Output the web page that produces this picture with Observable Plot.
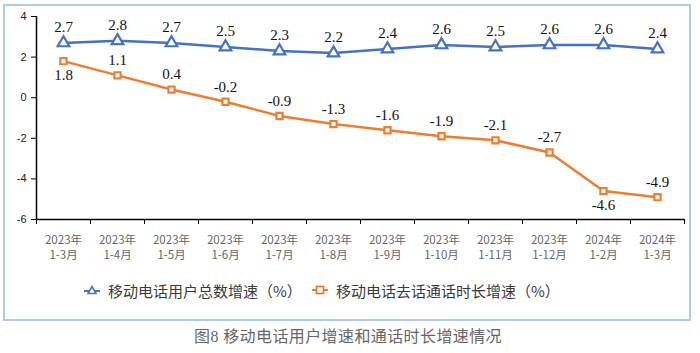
<!DOCTYPE html>
<html>
<head>
<meta charset="utf-8">
<script src="https://cdn.jsdelivr.net/npm/d3@7"></script>
<script src="https://cdn.jsdelivr.net/npm/@observablehq/plot@0.6"></script>
<style>
  body { margin: 0; background: #fff; }
  #wrap { position: relative; width: 700px; height: 353px; overflow: hidden; }
  #frame { position: absolute; left: 3px; top: 4px; width: 684px; height: 313px; border: 2px solid #aecbea; }
  #chart { position: absolute; left: 0; top: 0; }
  .leg { position: absolute; top: 280px; font-family: "Noto Sans CJK SC", sans-serif; font-size: 15px; color: #3a3a3a; display: flex; align-items: center; height: 20px; white-space: nowrap; }
  .leg svg { margin-right: 8px; }
  #caption { position: absolute; top: 323px; left: 0; width: 696px; text-align: center; font-family: "Liberation Serif", "Noto Sans CJK SC", serif; font-size: 16px; color: #666; letter-spacing: 0.4px; }
  #caption span { font-family: "Noto Sans CJK SC", sans-serif; }
</style>
</head>
<body>
<div id="wrap">
  <div id="frame"></div>
  <div id="chart"></div>
  <div class="leg" style="left:84px">
    <svg width="16" height="12"><line x1="0" y1="7" x2="16" y2="7" stroke="#4472C4" stroke-width="2"/><path d="M8,2.5 L12,9.5 L4,9.5 Z" fill="#fff" stroke="#4472C4" stroke-width="1.6"/></svg>
    <span>移动电话用户总数增速（%）</span>
  </div>
  <div class="leg" style="left:312px">
    <svg width="16" height="12"><line x1="0" y1="6" x2="16" y2="6" stroke="#ED7D31" stroke-width="2"/><rect x="4.5" y="2.5" width="7" height="7" fill="#fff" stroke="#ED7D31" stroke-width="1.8"/></svg>
    <span>移动电话去话通话时长增速（%）</span>
  </div>
  <div id="caption">图8 <span>移动电话用户增速和通话时长增速情况</span></div>
</div>
<script>
const years = ["2023年","2023年","2023年","2023年","2023年","2023年","2023年","2023年","2023年","2023年","2024年","2024年"];
const periods = ["1-3月","1-4月","1-5月","1-6月","1-7月","1-8月","1-9月","1-10月","1-11月","1-12月","1-2月","1-3月"];
const userGrowth = [2.7, 2.8, 2.7, 2.5, 2.3, 2.2, 2.4, 2.6, 2.5, 2.6, 2.6, 2.4];
const minutesGrowth = [1.8, 1.1, 0.4, -0.2, -0.9, -1.3, -1.6, -1.9, -2.1, -2.7, -4.6, -4.9];
const yTicks = [-6, -4, -2, 0, 2, 4];

const blue = "#4472C4", orange = "#ED7D31";
const users = userGrowth.map((v, i) => ({i: i + 0.5, v}));
const mins = minutesGrowth.map((v, i) => ({i: i + 0.5, v}));
// label placement for the orange series (which labels sit below their point)
const belowIdx = new Set([0, 10]);
const minsAbove = mins.filter((d, k) => !belowIdx.has(k));
const minsBelow = mins.filter((d, k) => belowIdx.has(k));

const n = years.length;
const chart = Plot.plot({
  width: 700,
  height: 266,
  marginLeft: 36,
  marginRight: 16,
  marginTop: 16,
  marginBottom: 47,
  style: {background: "transparent", overflow: "visible"},
  x: {type: "linear", domain: [0, n], axis: null},
  y: {domain: [-6, 4], axis: null},
  marks: [
    Plot.axisY({ticks: yTicks, tickSize: 5, tickPadding: 5, tickFormat: d => String(d), fontSize: 11, fontFamily: "Liberation Sans, Arial, sans-serif", fill: "#222", stroke: "#000", label: null}),
    Plot.axisX({ticks: d3.range(n + 1), tickSize: 5, tickFormat: () => "", stroke: "#000", strokeWidth: 1, label: null}),
    Plot.axisX({ticks: d3.range(n).map(i => i + 0.5), tickSize: 0, tickPadding: 14, lineHeight: 1.3,
      tickFormat: d => years[Math.floor(d)] + "\n" + periods[Math.floor(d)],
      fontSize: 11.5, fontFamily: "Noto Sans CJK SC, sans-serif", fill: "#666", label: null}),
    Plot.ruleY([-6], {stroke: "#000", strokeWidth: 1.5}),
    Plot.ruleX([0], {y1: -6, y2: 4, stroke: "#000", strokeWidth: 1.5}),
    Plot.line(users, {x: "i", y: "v", stroke: blue, strokeWidth: 2.5}),
    Plot.line(mins, {x: "i", y: "v", stroke: orange, strokeWidth: 2.5}),
    Plot.dot(users, {x: "i", y: "v", symbol: "triangle", r: 4.3, fill: "#fff", stroke: blue, strokeWidth: 2.2}),
    Plot.dot(mins, {x: "i", y: "v", symbol: "square", r: 3.5, fill: "#fff", stroke: orange, strokeWidth: 2.2}),
    Plot.text(users, {x: "i", y: "v", text: d => d.v.toFixed(1), dy: -16, fontSize: 15, fontFamily: "Liberation Serif, serif", fill: "#111"}),
    Plot.text(minsAbove, {x: "i", y: "v", text: d => d.v.toFixed(1), dy: -15, fontSize: 15, fontFamily: "Liberation Serif, serif", fill: "#111"}),
    Plot.text(minsBelow, {x: "i", y: "v", text: d => d.v.toFixed(1), dy: 14, fontSize: 15, fontFamily: "Liberation Serif, serif", fill: "#111"})
  ]
});
document.getElementById("chart").appendChild(chart);
</script>
</body>
</html>
